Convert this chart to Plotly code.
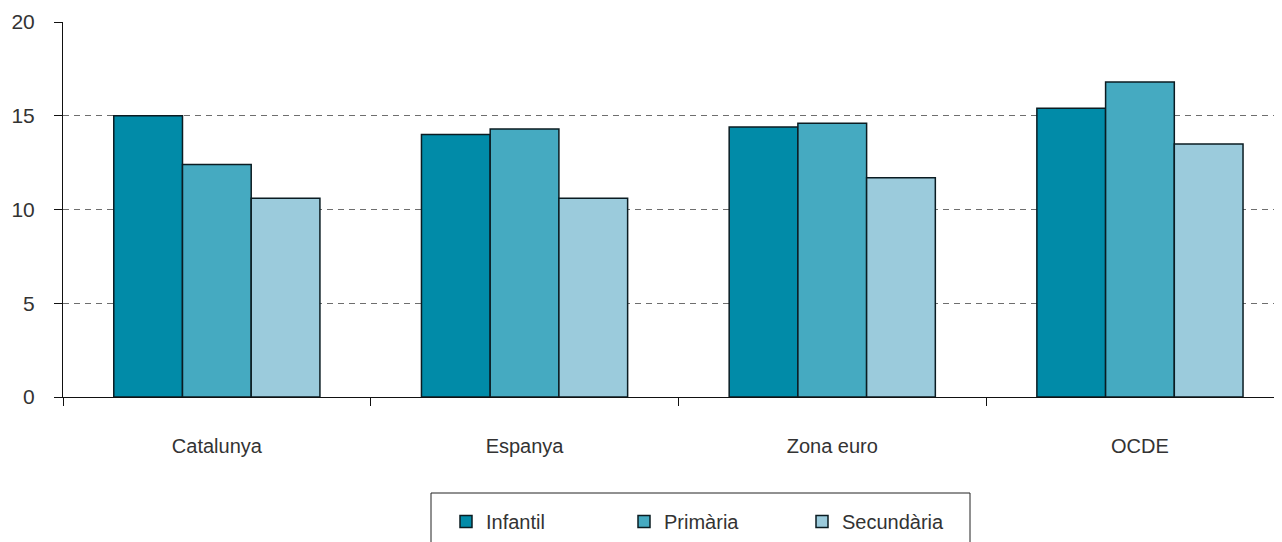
import plotly.graph_objects as go

categories = ["Catalunya", "Espanya", "Zona euro", "OCDE"]
infantil = [15.0, 14.0, 14.4, 15.4]
primaria = [12.4, 14.3, 14.6, 16.8]
secundaria = [10.6, 10.6, 11.7, 13.5]
series_names = ["Infantil", "Primària", "Secundària"]
colors = ["#018BA8", "#45AAC1", "#9BCBDC"]
y_ticks = [0, 5, 10, 15, 20]

# page is offset by 8px body margin
OFF = 8
W, H = 1282 - OFF, 542 - OFF
L, T = 63 - OFF, 22 - OFF
PLOT_BOTTOM = 397 - OFF
R = 0
B = H - PLOT_BOTTOM
plot_w = W - L - R
plot_h = PLOT_BOTTOM - T
cat_px = 307.7
x_max = -0.5 + plot_w / cat_px

fig = go.Figure()
for name, vals, col in zip(series_names, [infantil, primaria, secundaria], colors):
    fig.add_trace(go.Bar(
        x=categories, y=vals, name=name,
        marker=dict(color=col, line=dict(color="#0b1c22", width=1.5)),
    ))

font_family = "Liberation Sans, Arial, sans-serif"
text_col = "#333333"

def px_to_paper_x(px):
    return (px - OFF - L) / plot_w

def px_to_paper_y(py):
    return (PLOT_BOTTOM - (py - OFF)) / plot_h

fig.update_layout(
    width=W, height=H,
    margin=dict(l=L, r=R, t=T, b=B, autoexpand=False),
    paper_bgcolor="white", plot_bgcolor="white",
    barmode="group", bargap=0.33, bargroupgap=0,
    font=dict(family=font_family, size=20, color=text_col),
    showlegend=True,
    legend=dict(
        orientation="h",
        x=px_to_paper_x(446), xanchor="left",
        y=px_to_paper_y(502), yanchor="top",
        bgcolor="rgba(0,0,0,0)", borderwidth=0,
        font=dict(family=font_family, size=20, color=text_col),
        entrywidth=133, entrywidthmode="pixels",
        traceorder="normal",
    ),
    xaxis=dict(
        range=[-0.5, x_max],
        showline=True, linecolor="#111", linewidth=1,
        ticks="outside", tickson="boundaries", ticklen=8, tickcolor="#111",
        ticklabelstandoff=31,
        tickfont=dict(size=20),
        showgrid=False, zeroline=False,
    ),
    yaxis=dict(
        range=[0, 20], tickvals=y_ticks,
        showline=True, linecolor="#111", linewidth=1,
        ticks="outside", ticklen=8, tickcolor="#111",
        ticklabelstandoff=15,
        tickfont=dict(size=21),
        showgrid=True, gridcolor="#6e6e6e", gridwidth=1, griddash="6px,5px",
        zeroline=False,
    ),
    shapes=[dict(
        type="rect", xref="paper", yref="paper",
        x0=px_to_paper_x(431), x1=px_to_paper_x(970),
        y0=px_to_paper_y(493), y1=px_to_paper_y(560),
        line=dict(color="#222", width=1), fillcolor="rgba(0,0,0,0)",
        layer="above",
    )],
)

fig.write_html("out.html")
